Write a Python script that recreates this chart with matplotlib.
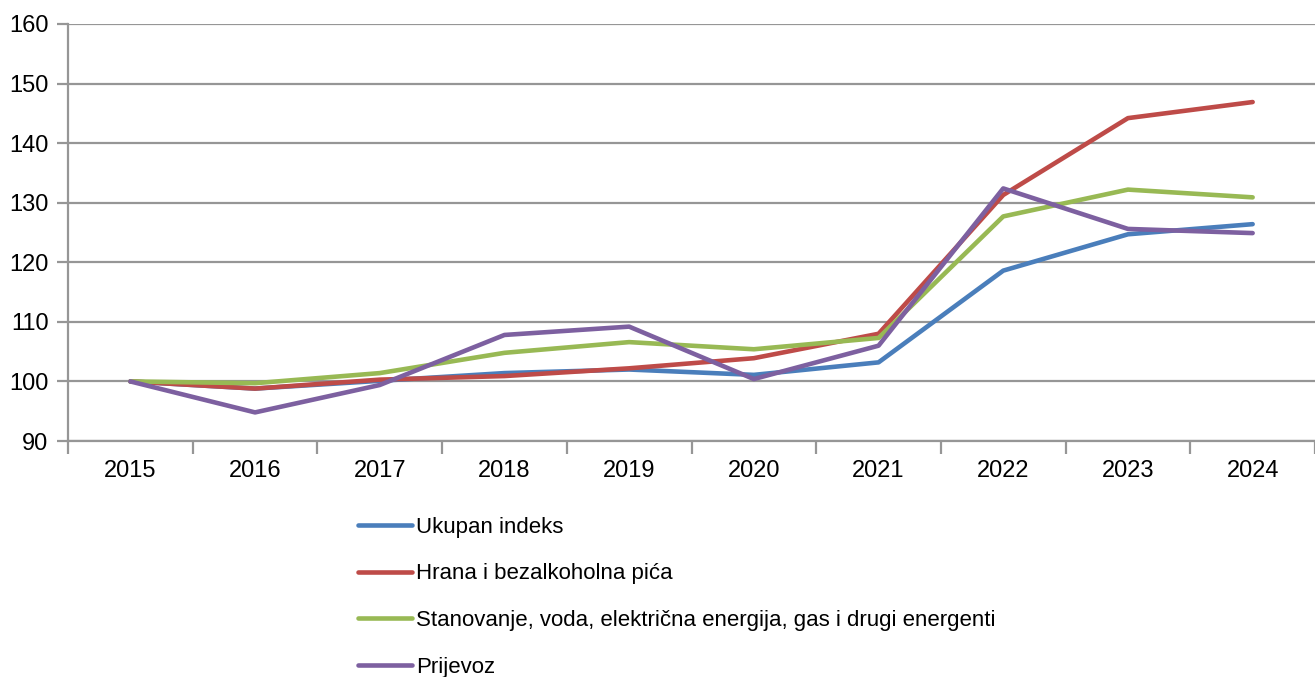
import matplotlib
matplotlib.use("Agg")
import matplotlib.pyplot as plt
import numpy as np

years = ["2015", "2016", "2017", "2018", "2019", "2020", "2021", "2022", "2023", "2024"]
ukupan = [100, 98.8, 100.1, 101.4, 102.0, 101.1, 103.2, 118.6, 124.7, 126.4]
hrana = [100, 98.8, 100.3, 100.9, 102.2, 103.9, 108.0, 131.3, 144.2, 146.9]
stanovanje = [100, 99.7, 101.4, 104.8, 106.6, 105.4, 107.3, 127.7, 132.2, 130.9]
prijevoz = [100, 94.8, 99.4, 107.8, 109.2, 100.4, 106.0, 132.4, 125.6, 124.9]

labels = ["Ukupan indeks", "Hrana i bezalkoholna pića",
          "Stanovanje, voda, električna energija, gas i drugi energenti", "Prijevoz"]
colors = ["#4A7EBB", "#BE4B48", "#98B954", "#7D60A0"]

plt.rcParams["font.family"] = ["Liberation Sans", "DejaVu Sans"]

W, H = 1315, 677
fig = plt.figure(figsize=(W / 100, H / 100), dpi=100)
ax = fig.add_axes([68 / W, (H - 441) / H, (W - 68) / W, 417 / H])

x = np.arange(len(years))
for series, lab, col in zip([ukupan, hrana, stanovanje, prijevoz], labels, colors):
    ax.plot(x, series, color=col, lw=3.3, label=lab, solid_capstyle="round", zorder=3)

grid_col = "#969696"
ax.set_ylim(90, 160)
ax.set_yticks(range(90, 161, 10))
ax.set_xlim(-0.5, len(years) - 0.5)
ax.set_xticks(x)
ax.set_xticklabels(years)
ax.set_xticks(np.arange(-0.5, len(years), 1), minor=True)
ax.tick_params(axis="x", which="major", length=0, pad=14, labelsize=17)
ax.tick_params(axis="x", which="minor", length=9, width=1.6, color=grid_col)
ax.tick_params(axis="y", length=8, width=1.6, color=grid_col, labelsize=17, pad=6)
ax.grid(axis="y", color=grid_col, lw=1.6, zorder=1)
for s in ["top", "right"]:
    ax.spines[s].set_visible(False)
for s in ["left", "bottom"]:
    ax.spines[s].set_color(grid_col)
    ax.spines[s].set_linewidth(1.6)

fig.legend(loc="upper left", bbox_to_anchor=(349 / W, 1 - 508 / H), frameon=False,
           fontsize=16, handlelength=2.45, handletextpad=0.18, labelspacing=1.15,
           borderaxespad=0)

fig.savefig("out.png", dpi=100)
